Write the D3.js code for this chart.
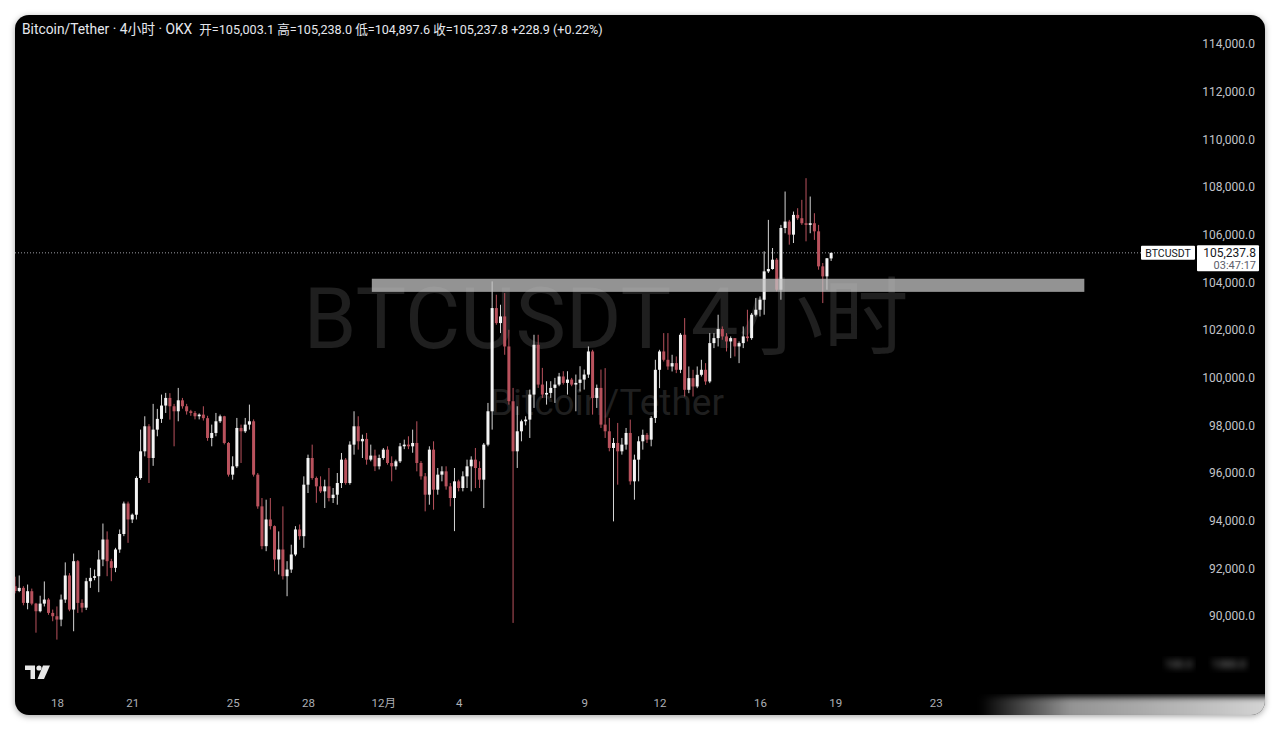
<!DOCTYPE html>
<html><head><meta charset="utf-8">
<script src="https://cdn.jsdelivr.net/npm/d3@7"></script>
<style>
html,body{margin:0;padding:0;background:#fff;}
svg{display:block;}
</style></head><body>
<svg id="chart" width="1280" height="730"></svg>
<script>
// ---- DATA (4h candles, BTC/USDT, OKX) ----
const opens = [
91250,91050,91180,90550,91040,90520,90200,90520,90690,90130,
89990,89850,90690,91700,90270,92300,90550,90350,91460,91600,
91670,92370,93210,92300,92020,92790,93440,94720,94050,94250,
95790,96910,97960,96630,97820,98270,98830,99150,98800,98590,
99050,98800,98590,98520,98380,98450,98300,97470,97680,98170,
98380,97260,95930,96280,97890,97750,98030,98170,95930,94600,
92930,94050,93770,92370,92790,91670,91950,92580,93630,93350,
95510,96630,95790,95440,95230,95440,94950,95090,95580,96560,
95580,97190,97960,97330,97430,96560,96730,96280,96630,96980,
96420,96280,96490,97120,97190,97120,97260,96420,95860,95090,
96980,95300,95930,96070,95440,94950,95650,95370,95860,96280,
96560,96210,95720,97190,98590,102920,102290,102570,101310,99010,
96910,97750,98170,98240,99290,101380,99710,99290,99360,99570,
99710,100050,99780,99920,99710,99780,99920,100130,101100,99150,
99570,98030,97750,97050,97260,96910,97190,97680,95650,96560,
97330,97600,97400,98310,100330,101100,100750,100470,100610,100330,
101800,99490,99980,99630,100120,100330,99840,101450,101660,102040,
101730,101520,101660,101310,101450,101730,101660,102640,102850,103270,
104460,104560,104950,103690,106280,106550,106000,106830,106690,106480,
106410,106480,106140,104670,104250,105003.1];
const highs = [
91650,91700,91250,91320,91150,90550,90850,91450,90750,90270,
90400,90900,92250,91800,92620,92350,90700,91600,92020,91950,
92760,93880,93550,92400,92860,93630,94800,94800,94300,95860,
97820,98380,98050,98900,98690,99290,99360,99350,98900,99570,
99150,98900,98650,98600,98500,98800,98400,98030,98520,98450,
98400,97300,96700,98310,98030,98310,98870,98250,96000,94950,
94880,94950,93800,93550,94600,92300,92990,93770,93840,95860,
96770,97190,95850,95860,95720,96210,95370,96000,96840,96630,
97330,98590,98380,97610,97680,97190,96980,96770,97050,97120,
96700,96560,97260,97400,97540,97820,98170,96500,96000,97120,
97330,96210,96280,96280,95580,96210,95720,96070,96560,96700,
97050,96490,97260,98940,104040,103480,103060,103550,102010,99570,
98800,98240,98380,99500,101800,101800,100410,99850,99850,99990,
100200,100270,100270,99990,100130,100480,100340,101310,101170,99710,
100340,100400,98310,97470,98100,97470,97890,98240,96770,97540,
97820,97680,98380,100750,101170,101870,101870,100960,100890,101870,
102500,100470,100330,100470,100750,100610,101870,101870,102640,102150,
101870,101730,101660,101520,102150,102850,102710,103340,103410,105300,
106620,105440,105020,106410,107810,106620,106970,107110,107460,108370,
107600,106900,106410,104810,105020,105238.0];
const lows = [
90950,91000,90450,90280,90450,89300,90150,90400,90050,89780,
89010,89570,90550,90200,89360,90130,90150,90250,91180,91500,
91000,92090,91670,91460,91840,92650,93350,93070,93900,94050,
95720,96700,95580,96300,97540,98100,98520,98240,97120,98170,
98700,98450,98400,98250,98250,98200,97350,97120,97540,98100,
97200,95850,95720,96210,96420,97680,97820,95850,94500,92800,
92720,93630,91880,91740,91530,90830,91810,92510,93200,92860,
95160,95720,94750,95160,94530,94810,94740,94670,95370,95510,
95510,96770,96980,96630,96350,96490,96080,96150,96560,96350,
95650,96140,96420,97000,97000,96850,96070,95720,94390,94670,
94460,95090,95650,95300,94600,93560,95230,95230,95370,95230,
95370,95370,94530,97120,97820,102220,101870,100960,98870,89710,
96210,97330,98000,97470,98730,99570,99150,98870,99150,98940,
99640,99710,99290,99640,98590,99420,99500,99990,98450,98730,
97890,97470,96910,93970,95510,96770,96980,95510,94880,95650,
96980,97260,97120,98100,99560,100680,100330,100260,100190,100190,
99210,99350,99210,99560,100050,99700,99770,101240,101310,101590,
101100,100820,100890,100610,101240,101520,101590,102570,102570,102640,
104390,104530,103620,103270,106060,105580,105650,106620,106410,105720,
106060,105780,104530,103130,103690,104897.6];
const closes = [
91050,91180,90550,91040,90520,90200,90520,90690,90130,89990,
89850,90690,91700,90270,92300,90550,90350,91460,91600,91670,
92370,93210,92300,92020,92790,93440,94720,94050,94250,95790,
96910,97960,96630,97820,98270,98830,99150,98800,98590,99050,
98800,98590,98520,98380,98450,98300,97470,97680,98170,98380,
97260,95930,96280,97890,97750,98030,98170,95930,94600,92930,
94050,93770,92370,92790,91670,91950,92580,93630,93350,95510,
96630,95790,95440,95230,95440,94950,95090,95580,96560,95580,
97190,97960,97330,97430,96560,96730,96280,96630,96980,96420,
96280,96490,97120,97190,97120,97260,96420,95860,95090,96980,
95300,95930,96070,95440,94950,95650,95370,95860,96280,96560,
96210,95720,97190,98590,102920,102290,102570,101310,99010,96910,
97750,98170,98240,99290,101380,99710,99290,99360,99570,99710,
100050,99780,99920,99710,99780,99920,100130,101100,99150,99570,
98030,97750,97050,97260,96910,97190,97680,95650,96560,97330,
97600,97400,98310,100330,101100,100750,100470,100610,100330,101800,
99490,99980,99630,100120,100330,99840,101450,101660,102040,101730,
101520,101660,101310,101450,101730,101660,102640,102850,103270,104460,
104560,104950,103690,106280,106550,106000,106830,106690,106480,106410,
106480,106140,104670,104250,105008.9,105237.8];

const firstCandle = new Date(2024, 10, 16, 8);   // Nov 16 08:00
const afterLast   = new Date(2024, 11, 19, 0);   // Dec 19 00:00 (exclusive)
const xTickDates  = [new Date(2024,10,18), new Date(2024,10,21), new Date(2024,10,25), new Date(2024,10,28),
                     new Date(2024,11,1), new Date(2024,11,4), new Date(2024,11,9), new Date(2024,11,12),
                     new Date(2024,11,16), new Date(2024,11,19), new Date(2024,11,23)];
const xTickLabels = ["18","21","25","28","12月","4","9","12","16","19","23"];
const yTicks = [90000,92000,94000,96000,98000,100000,102000,104000,106000,108000,110000,112000,114000];
const zonePrices = [103600, 104150];
const zoneDates = [new Date(2024,10,30,13), new Date(2024,11,28,22)];
const symbol = "BTCUSDT";
const countdown = "03:47:17";
const titleText = "Bitcoin/Tether · 4小时 · OKX";
const watermark1 = "BTCUSDT 4小时";
const watermark2 = "Bitcoin/Tether";

// ---- DRAW ----
const FONT = "Roboto, 'Noto Sans CJK SC', 'Noto Sans', sans-serif";
const svg = d3.select("#chart");
const defs = svg.append("defs");
const sh = defs.append("filter").attr("id","shadow").attr("x","-5%").attr("y","-5%").attr("width","110%").attr("height","110%");
sh.append("feDropShadow").attr("dx",0).attr("dy",1.5).attr("stdDeviation",3).attr("flood-color","#000").attr("flood-opacity",0.35);
defs.append("clipPath").attr("id","cardClip").append("rect")
  .attr("x",15).attr("y",15).attr("width",1250).attr("height",700).attr("rx",14);
const fade = defs.append("linearGradient").attr("id","fade").attr("x1","0").attr("x2","1").attr("y1","0").attr("y2","0");
fade.append("stop").attr("offset","0").attr("stop-color","#fff").attr("stop-opacity",0);
fade.append("stop").attr("offset","0.3").attr("stop-color","#f4f4f4").attr("stop-opacity",0.6);
fade.append("stop").attr("offset","1").attr("stop-color","#fff").attr("stop-opacity",0.85);
const blur = defs.append("filter").attr("id","blur");
blur.append("feGaussianBlur").attr("stdDeviation",3);

svg.append("rect").attr("x",15).attr("y",15).attr("width",1250).attr("height",700).attr("rx",14)
  .attr("fill","#000").attr("filter","url(#shadow)");

const g = svg.append("g").attr("clip-path","url(#cardClip)");

const x = d3.scaleTime().domain([new Date(2024,10,16,7), new Date(2024,11,30,23)]).range([14, 1135.6]);
const y = d3.scaleLinear().domain([90000, 114000]).range([616, 44]);

const times = d3.timeHour.every(4).range(firstCandle, afterLast);
const candles = times.map((t,i)=>({t, o:opens[i], h:highs[i], l:lows[i], c:closes[i]}));

// watermark
g.append("text").attr("x",606).attr("y",348).attr("text-anchor","middle")
  .attr("font-family",FONT).attr("font-size",85).attr("fill","#1f1f1f").text(watermark1);
g.append("text").attr("x",607).attr("y",415).attr("text-anchor","middle")
  .attr("font-family",FONT).attr("font-size",37).attr("fill","#1f1f1f").text(watermark2);

// last price dotted line
const lastClose = closes[closes.length-1];
g.append("line").attr("x1",15).attr("x2",1141).attr("y1",y(lastClose)).attr("y2",y(lastClose))
  .attr("stroke","#9a9ca3").attr("stroke-width",1).attr("stroke-dasharray","1,2");

// candles
const UP = "#f4f4f4", UPWICK = "#d4d4d4", DN = "#b9525d";
const cg = g.append("g");
cg.selectAll("line.wick").data(candles).join("line").attr("class","wick")
  .attr("x1",d=>x(d.t)).attr("x2",d=>x(d.t)).attr("y1",d=>y(d.h)).attr("y2",d=>y(d.l))
  .attr("stroke",d=>d.c>=d.o?UPWICK:DN).attr("stroke-width",1);
cg.selectAll("rect.body").data(candles).join("rect").attr("class","body")
  .attr("x",d=>x(d.t)-1.5).attr("width",3)
  .attr("y",d=>y(Math.max(d.o,d.c)))
  .attr("height",d=>Math.max(1, Math.abs(y(d.o)-y(d.c))))
  .attr("fill",d=>d.c>=d.o?UP:DN);

// zone band
g.append("rect").attr("x",x(zoneDates[0])).attr("width",x(zoneDates[1])-x(zoneDates[0]))
  .attr("y",y(zonePrices[1])).attr("height",y(zonePrices[0])-y(zonePrices[1]))
  .attr("fill","#c4c4c4").attr("fill-opacity",0.75);

// y axis
const yAxis = g.append("g").attr("transform","translate(1255,0)")
  .call(d3.axisRight(y).tickValues(yTicks).tickFormat(d3.format(",.1f")).tickSize(0));
yAxis.select(".domain").remove();
yAxis.selectAll("text").attr("x",0).attr("text-anchor","end").attr("fill","#c2c4ca")
  .attr("font-family",FONT).attr("font-size",12);

// x axis
const xAxis = g.append("g").attr("transform","translate(0,697)")
  .call(d3.axisBottom(x).tickValues(xTickDates).tickFormat((d,i)=>xTickLabels[i]).tickSize(0));
xAxis.select(".domain").remove();
xAxis.selectAll("text").attr("fill","#aeb0b6").attr("font-family",FONT).attr("font-size",11.5).attr("dy","0.6em");

// price labels
const ly = y(lastClose);
g.append("rect").attr("x",1141).attr("y",ly-7).attr("width",54).attr("height",14).attr("fill","#fff").attr("rx",1);
g.append("text").attr("x",1168).attr("y",ly).attr("dy","0.35em").attr("text-anchor","middle")
  .attr("font-family",FONT).attr("font-size",10.5).attr("fill","#131722").text(symbol);
g.append("rect").attr("x",1197).attr("y",ly-7.5).attr("width",62).attr("height",26).attr("fill","#fff").attr("rx",1);
g.append("text").attr("x",1256).attr("y",ly).attr("dy","0.35em").attr("text-anchor","end")
  .attr("font-family",FONT).attr("font-size",12).attr("fill","#131722").text(d3.format(",.1f")(lastClose));
g.append("text").attr("x",1256).attr("y",ly+12).attr("dy","0.35em").attr("text-anchor","end")
  .attr("font-family",FONT).attr("font-size",11).attr("fill","#5d606b").text(countdown);

// header
const n = closes.length;
const fmt = d3.format(",.1f");
const chg = closes[n-1]-closes[n-2];
const hdr = g.append("text").attr("x",22).attr("y",28).attr("dy","0.35em")
  .attr("font-family",FONT).attr("fill","#e6e8ee");
hdr.append("tspan").attr("font-size",13.8).text(titleText);
hdr.append("tspan").attr("font-size",12.6).attr("dx",7)
  .text(`开=${fmt(opens[n-1])} 高=${fmt(highs[n-1])} 低=${fmt(lows[n-1])} 收=${fmt(closes[n-1])} ${d3.format("+,.1f")(chg)} (${d3.format("+.2%")(chg/closes[n-2])})`);

// TradingView logo
const logo = g.append("g").attr("fill","#e8e8e8");
logo.append("path").attr("d","M25,665.5 H35 V679 H30.5 V670 H25 Z");
logo.append("circle").attr("cx",39).attr("cy",668).attr("r",2.6);
logo.append("path").attr("d","M43,665.5 H50 L44,679 H37.5 Z");

// washed-out bottom right corner (photo artefact)
g.append("rect").attr("x",980).attr("y",697).attr("width",300).attr("height",24)
  .attr("fill","url(#fade)").attr("filter","url(#blur)");
g.append("text").attr("x",1165).attr("y",668).attr("font-family",FONT).attr("font-size",11)
  .attr("fill","#fff").attr("fill-opacity",0.55).attr("filter","url(#blur)").text("100.0");
g.append("text").attr("x",1212).attr("y",668).attr("font-family",FONT).attr("font-size",11)
  .attr("fill","#fff").attr("fill-opacity",0.6).text("1300.0").attr("filter","url(#blur)");
</script>
</body></html>
